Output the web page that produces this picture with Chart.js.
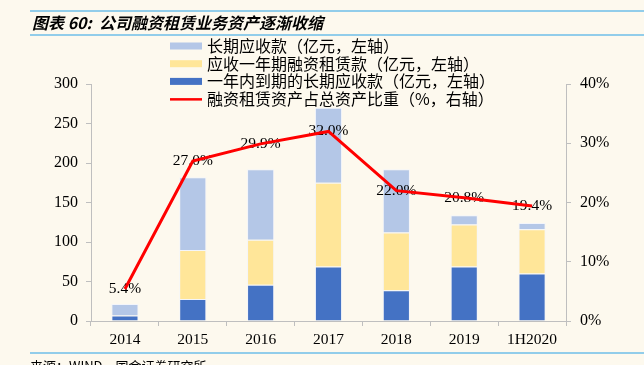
<!DOCTYPE html>
<html>
<head>
<meta charset="utf-8">
<script src="https://cdn.jsdelivr.net/npm/chart.js@4"></script>
<style>
  html, body { margin: 0; padding: 0; background: #fdf9ee; }
  #wrap { width: 644px; height: 365px; position: relative; }
</style>
</head>
<body>
<div id="wrap"><canvas id="grafico" width="644" height="365"></canvas></div>
<script>
// dados
const anos = ['2014', '2015', '2016', '2017', '2018', '2019', '1H2020'];
const longoPrazo = [14.5, 92, 89, 95, 80, 12, 8];        // 长期应收款
const umAno = [0, 62, 57, 106, 73, 53, 56];               // 应收一年期融资租赁款
const vencer = [7, 28, 46, 69, 39, 69, 60];               // 一年内到期的长期应收款
const peso = [5.4, 27.0, 29.9, 32.0, 22.0, 20.8, 19.4];  // 比重 %
const ticksEsq = [0, 50, 100, 150, 200, 250, 300];
const ticksDir = [0, 10, 20, 30, 40];

const titulo = '图表 60:  公司融资租赁业务资产逐渐收缩';
const fonte = '来源：WIND，国金证券研究所';

const serif = '"Liberation Serif", "Times New Roman", serif';
const cjk = '"Noto Sans CJK SC", sans-serif';
const cinza = '#bfbfbf';
const bordaBarra = 'rgba(240,244,252,0.8)';

// ================= TÍTULO, LEGENDA E RÓTULOS =================
const extras = {
  id: 'extras',
  afterDraw(chart) {
    const ctx = chart.ctx;
    ctx.save();
    // linhas azuis
    ctx.fillStyle = '#92cdea';
    ctx.fillRect(30, 10, 614, 2);
    ctx.fillRect(30, 34, 614, 2);
    ctx.fillRect(30, 352, 614, 2);

    // título
    ctx.fillStyle = '#000';
    ctx.font = 'italic bold 16px ' + cjk;
    ctx.textBaseline = 'middle';
    ctx.textAlign = 'left';
    ctx.fillText(titulo, 32, 23);

    // fonte
    ctx.font = '13px ' + cjk;
    ctx.fillText(fonte, 30, 366);

    // legenda (ordem do original: claro, amarelo, escuro, linha)
    const ds = chart.data.datasets;
    const itens = [
      { t: ds[2].label, c: ds[2].backgroundColor, linha: false },
      { t: ds[1].label, c: ds[1].backgroundColor, linha: false },
      { t: ds[0].label, c: ds[0].backgroundColor, linha: false },
      { t: ds[3].label, c: ds[3].borderColor, linha: true }
    ];
    ctx.font = '16px ' + cjk;
    itens.forEach((it, i) => {
      const y = 46 + i * 17.7;
      ctx.fillStyle = it.c;
      if (it.linha) ctx.fillRect(170, y - 1, 32, 2.5);
      else ctx.fillRect(170, y - 3.5, 32, 7);
      ctx.fillStyle = '#000';
      ctx.fillText(it.t, 207, y);
    });
    ctx.restore();
  },
  // rótulos por baixo da linha vermelha
  beforeDatasetDraw(chart, args) {
    if (args.index !== 3) return;
    const ctx = chart.ctx;
    const meta = chart.getDatasetMeta(3);
    ctx.save();
    ctx.font = '15.5px ' + serif;
    ctx.fillStyle = '#000';
    ctx.textAlign = 'center';
    ctx.textBaseline = 'middle';
    meta.data.forEach((p, i) => {
      ctx.fillText(peso[i].toFixed(1) + '%', p.x, p.y);
    });
    ctx.restore();
  }
};

const ctx = document.getElementById('grafico');

new Chart(ctx, {
  type: 'bar',
  data: {
    labels: anos,
    datasets: [
      {
        label: '一年内到期的长期应收款（亿元，左轴）',
        data: vencer,
        backgroundColor: '#4472c4',
        stack: 's', order: 2, yAxisID: 'y'
      },
      {
        label: '应收一年期融资租赁款（亿元，左轴）',
        data: umAno,
        backgroundColor: '#ffe699',
        stack: 's', order: 2, yAxisID: 'y'
      },
      {
        label: '长期应收款（亿元，左轴）',
        data: longoPrazo,
        backgroundColor: '#b4c7e7',
        stack: 's', order: 2, yAxisID: 'y'
      },
      {
        type: 'line',
        label: '融资租赁资产占总资产比重（%，右轴）',
        data: peso,
        borderColor: '#ff0000',
        borderWidth: 3,
        pointRadius: 0,
        tension: 0,
        order: 1, yAxisID: 'y1'
      }
    ]
  },
  options: {
    responsive: false,
    animation: false,
    devicePixelRatio: 1,
    layout: { padding: { top: 84, left: 0, right: 0, bottom: 0 } },
    plugins: { legend: { display: false }, tooltip: { enabled: false } },
    datasets: { bar: { barPercentage: 0.4, categoryPercentage: 1, borderWidth: 1, borderColor: bordaBarra } },
    scales: {
      x: {
        stacked: true,
        afterFit: s => { s.height = 44; },
        grid: { offset: true, drawOnChartArea: false, drawTicks: true, tickLength: 5, color: cinza },
        border: { color: cinza, width: 1 },
        ticks: { color: '#000', font: { family: serif, size: 15.5 }, padding: 5 }
      },
      y: {
        stacked: true,
        position: 'left',
        min: 0, max: 300,
        afterFit: s => { s.width = 91; },
        afterBuildTicks: s => { s.ticks = ticksEsq.map(v => ({ value: v })); },
        grid: { drawOnChartArea: false, tickLength: 5, color: cinza },
        border: { color: cinza, width: 1 },
        ticks: { color: '#000', font: { family: serif, size: 16 }, padding: 8 }
      },
      y1: {
        position: 'right',
        min: 0, max: 40,
        afterFit: s => { s.width = 78; },
        afterBuildTicks: s => { s.ticks = ticksDir.map(v => ({ value: v })); },
        grid: { drawOnChartArea: false, tickLength: 5, color: cinza },
        border: { color: cinza, width: 1 },
        ticks: { color: '#000', font: { family: serif, size: 16 }, padding: 9, callback: v => v + '%' }
      }
    }
  },
  plugins: [extras]
});
</script>
</body>
</html>
